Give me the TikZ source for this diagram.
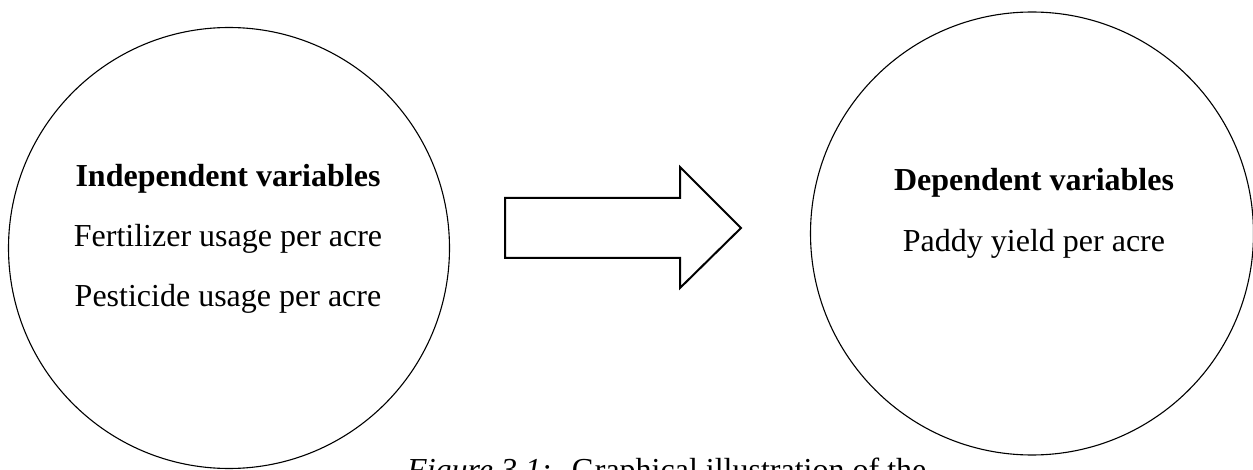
\documentclass[tikz,border=0pt]{standalone}
\usepackage{fontspec}
\setmainfont{Liberation Serif}
\begin{document}
\begin{tikzpicture}[x=1pt,y=-1pt,
  bubble/.style={draw=black,line width=1.1pt,circle,inner sep=0pt,fill=none},
  label/.style={anchor=base,inner sep=0pt,font=\fontsize{32}{38}\selectfont},
  headlabel/.style={label,font=\fontsize{32}{38}\selectfont\bfseries},
  blockarrow/.style={draw=black,line width=2pt,fill=white,line join=miter}]
\useasboundingbox (0,0) rectangle (1253,470);
\clip (0,0) rectangle (1253,470);
\fill[white] (0,0) rectangle (1253,470);
% circles
\node[bubble,minimum size=441pt] (indep) at (229,248) {};
\node[bubble,minimum size=443pt] (dep) at (1032,233.5) {};
% left texts
\node[headlabel] (ih) at (228,187) {Independent variables};
\node[label] (i1) at (228,247) {Fertilizer usage per acre};
\node[label] (i2) at (228,307) {Pesticide usage per acre};
% right texts
\node[headlabel] (dh) at (1034,191) {Dependent variables};
\node[label] (d1) at (1034,252) {Paddy yield per acre};
% block arrow
\draw[blockarrow] (505,198) -- (680,198) -- (680,167) -- (741,228) -- (680,288) -- (680,258) -- (505,258) -- cycle;
% caption
\node[label,anchor=base west] (cap) at (407,480) {\textit{Figure 3.1:}\hspace{20pt}Graphical illustration of the};
\end{tikzpicture}
\end{document}
